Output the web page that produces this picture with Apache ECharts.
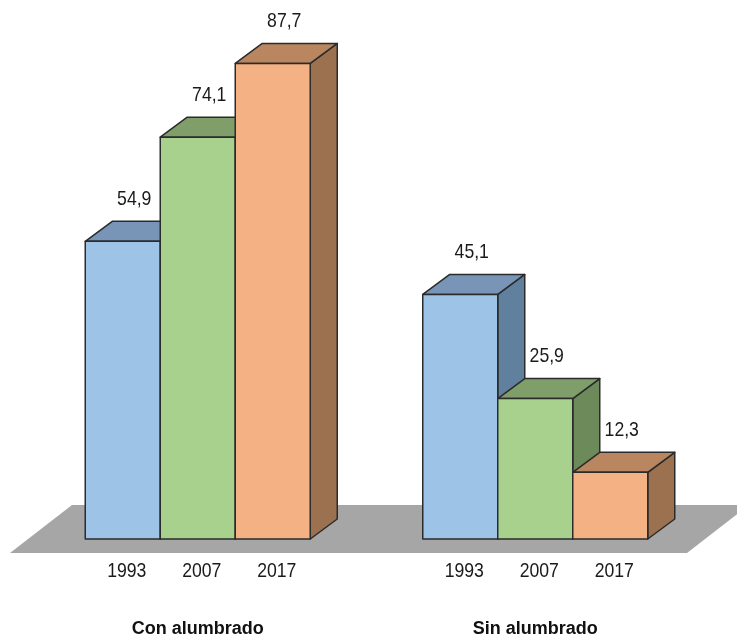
<!DOCTYPE html>
<html>
<head>
<meta charset="utf-8">
<script src="https://cdn.jsdelivr.net/npm/echarts@6/dist/echarts.min.js"></script>
<style>
  html, body { margin: 0; padding: 0; background: #fff; }
  #chart { width: 737px; height: 639px; }
</style>
</head>
<body>
<div id="chart"></div>
<script>
// data
var groups = ['Con alumbrado', 'Sin alumbrado'];
var years = ['1993', '2007', '2017'];
var values1993 = [54.9, 45.1];
var values2007 = [74.1, 25.9];
var values2017 = [87.7, 12.3];

var font = "'Liberation Sans', Arial, sans-serif";

// front / top / side colours for each year
var faces = [
  { front: '#9dc3e6', top: '#7894b6', side: '#61809e' },
  { front: '#a9d18e', top: '#809e6a', side: '#6d8a5a' },
  { front: '#f4b183', top: '#b9865f', side: '#9c7150' }
];
var edge = '#2b2b2b';
var depthX = 27, depthY = -20;

function toComma(v) { return String(v).replace('.', ','); }

// narrow-looking text (squeezed sideways like Arial Narrow)
function narrowText(x, y, text) {
  return {
    type: 'text', x: x, y: y, scaleX: 0.84,
    style: { text: text, fill: '#1a1a1a', font: '21px ' + font, align: 'center', verticalAlign: 'middle' }
  };
}

function makeBar(yearIdx) {
  return function (params, api) {
    var cat = api.value(0);
    var val = api.value(1);
    var base = api.coord([cat, 0]);
    var top = api.coord([cat, val]);
    var bw = api.size([1, 0])[0] / 4.5;
    var x0 = base[0] - 1.5 * bw + yearIdx * bw;
    var x1 = x0 + bw;
    var yb = base[1], yt = top[1];
    var c = faces[yearIdx];
    var lineStyle = { stroke: edge, lineWidth: 1.5, lineJoin: 'round' };
    return {
      type: 'group',
      children: [
        { type: 'polygon', shape: { points: [[x1, yt], [x1 + depthX, yt + depthY], [x1 + depthX, yb + depthY], [x1, yb]] },
          style: Object.assign({ fill: c.side }, lineStyle) },
        { type: 'polygon', shape: { points: [[x0, yt], [x0 + depthX, yt + depthY], [x1 + depthX, yt + depthY], [x1, yt]] },
          style: Object.assign({ fill: c.top }, lineStyle) },
        { type: 'rect', shape: { x: x0, y: yt, width: bw, height: yb - yt },
          style: Object.assign({ fill: c.front }, lineStyle) },
        narrowText((x0 + x1) / 2 + depthX / 2 - 2, yt - 42, toComma(val)),
        narrowText((x0 + x1) / 2 + 4, yb + 32, years[yearIdx])
      ]
    };
  };
}

function renderFloor(params, api) {
  var cs = params.coordSys;
  var bottom = cs.y + cs.height;
  return {
    type: 'polygon',
    silent: true,
    shape: { points: [
      [cs.x - 19, bottom + 14],
      [cs.x + 43, bottom - 34],
      [cs.x + cs.width + 45, bottom - 34],
      [cs.x + cs.width - 17, bottom + 14]
    ] },
    style: { fill: '#a6a6a6' }
  };
}

var series = [{
  type: 'custom',
  name: 'floor',
  silent: true,
  renderItem: renderFloor,
  data: [[0, 0]]
}];
[values1993, values2007, values2017].forEach(function (vals, k) {
  series.push({
    type: 'custom',
    name: years[k],
    renderItem: makeBar(k),
    encode: { x: 0, y: 1 },
    data: vals.map(function (v, i) { return [i, v]; })
  });
});

var chart = echarts.init(document.getElementById('chart'), null, { renderer: 'canvas' });
chart.setOption({
  animation: false,
  backgroundColor: '#ffffff',
  grid: { left: 29, right: 33, top: 51, bottom: 100 },
  xAxis: {
    type: 'category',
    data: groups,
    axisLine: { show: false },
    axisTick: { show: false },
    axisLabel: { margin: 81, fontFamily: font, fontWeight: 'bold', fontSize: 18, color: '#111' }
  },
  yAxis: { type: 'value', min: 0, max: 90, show: false },
  series: series
});
</script>
</body>
</html>
